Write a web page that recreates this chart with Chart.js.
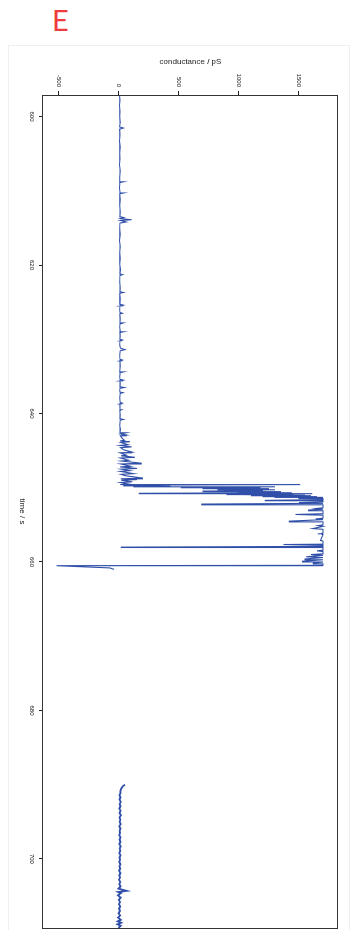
<!DOCTYPE html>
<html><head><meta charset="utf-8">
<script src="https://cdn.jsdelivr.net/npm/chart.js@4"></script>
<style>
html,body{margin:0;padding:0;background:#fff;overflow:hidden;width:350px;height:930px;}
#E{position:absolute;left:52px;top:5px;font:400 29px Lato,"Liberation Sans",Arial,sans-serif;color:#ee3b3b;line-height:1;}
#frame{position:absolute;left:8px;top:45px;width:340px;height:890px;border:1px solid #efefef;}
#wrap{position:absolute;left:0;top:0;width:930px;height:350px;transform-origin:0 0;transform:translateX(350px) rotate(90deg);}
canvas{display:block;}
</style></head>
<body>
<div id="frame"></div>
<div id="E">E</div>
<div id="wrap"><canvas id="c" width="930" height="350" style="width:930px;height:350px"></canvas></div>
<script>
const timeTicks = [600, 620, 640, 660, 680, 700];
const condTicks = [-500, 0, 500, 1000, 1500];
const timeRange = [597.1, 709.3];
const condRange = [-633, 1825];

// segment before the gap: time (s) and conductance (pS)
const timeA = [
597.1,597.8,598.5,599.3,600.0,600.8,601.4,601.55,601.7,602.5,
603.3,604.1,604.9,605.7,606.5,607.3,608.1,608.7,608.8,608.9,
609.6,610.2,610.3,610.4,611.2,612.0,612.8,613.5,613.6,613.75,
613.9,614.0,614.2,614.35,615.1,615.9,616.7,617.5,618.3,619.1,
619.9,620.6,621.2,621.3,621.4,622.3,623.1,623.6,623.7,623.8,
624.5,625.3,625.4,625.5,626.0,626.4,626.5,626.6,627.2,627.7,
627.8,627.95,628.4,628.9,629.0,629.1,629.6,630.0,630.1,630.2,
630.8,631.2,631.4,631.55,632.1,632.7,632.8,632.9,633.6,634.3,
634.4,634.5,635.0,635.4,635.5,635.6,636.0,636.4,636.5,636.6,
637.1,637.2,637.3,637.9,638.5,638.6,638.7,639.4,639.5,639.6,
640.2,640.7,640.8,640.9,641.6,642.2,642.5,642.6,642.75,642.9,
643.0,643.3,643.6,643.7,643.8,643.9,644.2,644.3,644.5,644.6,
644.9,645.2,645.3,645.6,645.7,645.9,646.0,646.3,646.4,646.7,
646.8,647.1,647.2,647.4,647.5,647.7,647.8,648.1,648.2,648.4,
648.7,648.8,648.9,649.0,649.2,649.3,649.5,649.55,649.6,649.65,
649.75,649.8,649.85,649.9,649.95,650.0,650.05,650.1,650.15,650.2,
650.25,650.3,650.35,650.4,650.45,650.5,650.55,650.6,650.65,650.7,
650.75,650.8,650.85,650.9,650.95,651.0,651.05,651.1,651.15,651.2,
651.25,651.3,651.4,651.45,651.6,651.7,651.75,651.9,652.0,652.1,
652.2,652.3,652.7,652.8,652.9,653.0,653.1,653.5,653.6,653.7,
654.1,654.2,654.3,654.5,654.6,655.0,655.1,655.2,655.5,655.6,
656.1,656.2,656.3,657.1,657.2,657.6,657.65,657.75,657.9,658.0,
658.05,658.4,658.5,658.6,658.9,659.0,659.1,659.3,659.4,659.6,
659.7,659.9,660.0,660.15,660.25,660.45,660.5,660.8,661.0
];
const condA = [
5,8,4,9,6,10,5,36,6,9,
4,10,6,9,5,11,7,6,36,8,
5,9,36,7,10,6,11,8,40,10,
105,12,60,9,6,10,5,11,7,10,
6,12,8,30,9,6,11,8,36,7,
10,8,36,9,6,9,28,7,10,8,
36,9,6,10,36,8,11,7,28,9,
6,12,50,10,7,9,28,8,11,7,
36,10,6,9,36,8,11,8,44,9,
7,33,10,6,10,28,8,9,21,7,
11,8,36,10,7,12,9,58,14,64,
12,25,45,10,92,15,75,8,105,14,
40,110,10,60,18,133,12,80,20,189,
15,95,10,150,20,90,12,120,18,60,
200,15,150,20,110,12,80,10,1510,40,
170,430,120,1300,520,1180,700,1250,760,1150,
820,1300,880,1200,700,1350,950,1250,1000,1440,
170,1610,900,1450,1000,1550,1100,1600,1200,1650,
1300,1700,1500,1700,1700,1220,1700,1700,1500,1700,
690,1700,1700,1640,1700,1580,1700,1700,1470,1700,
1700,1640,1700,1420,1700,1700,1660,1700,1615,1700,
1700,1680,1700,1680,1700,1700,1370,1700,1700,20,
1700,1700,1650,1700,1700,1600,1700,1560,1700,1550,
1700,1530,1700,1620,1700,1700,-520,-75,-40
];

// segment after the gap
const timeB = [
690.0,690.2,690.5,690.8,691.1,691.4,691.7,692.0,692.3,692.6,
692.9,693.2,693.5,693.8,694.1,694.4,694.7,695.0,695.3,695.6,
695.9,696.2,696.5,696.8,697.1,697.4,697.7,698.0,698.3,698.6,
698.9,699.2,699.5,699.8,700.1,700.4,700.7,701.0,701.3,701.6,
701.9,702.2,702.5,702.8,703.1,703.4,703.7,704.0,704.3,704.45,
704.6,704.9,705.2,705.5,705.8,706.1,706.4,706.7,707.0,707.3,
707.6,707.9,708.2,708.4,708.6,708.8,709.0,709.3
];
const condB = [
50,32,20,12,14,4,12,5,15,6,
12,3,13,5,16,4,11,6,14,2,
12,5,10,2,13,5,12,3,14,6,
11,2,13,5,10,2,12,4,10,1,
12,3,9,0,11,2,13,-4,64,-6,
16,-8,14,-2,9,0,10,1,8,-3,
10,-8,16,-10,18,-12,14,-4
];

const FONT = '"Liberation Sans", Arial, Helvetica, sans-serif';
const LINE = '#2f4fa8';
const INK = '#222';

function pts(t, c) { return t.map((v, i) => ({ x: v, y: c[i] })); }

const boxPlugin = {
  id: 'box',
  afterDraw(chart) {
    const { ctx, chartArea: a } = chart;
    ctx.save();
    ctx.strokeStyle = '#333';
    ctx.lineWidth = 1;
    ctx.strokeRect(Math.round(a.left) + 0.5, Math.round(a.top) + 0.5,
                   Math.round(a.right - a.left), Math.round(a.bottom - a.top));
    ctx.restore();
  }
};

new Chart(document.getElementById('c'), {
  type: 'scatter',
  data: {
    datasets: [
      { data: pts(timeA, condA), showLine: true, borderColor: LINE, borderWidth: 1.1, pointRadius: 0, fill: false },
      { data: pts(timeB, condB), showLine: true, borderColor: LINE, borderWidth: 1.8, pointRadius: 0, fill: false }
    ]
  },
  options: {
    responsive: false,
    animation: false,
    devicePixelRatio: 1,
    layout: { padding: { left: 0, right: 2, top: 12, bottom: 0 } },
    plugins: { legend: { display: false }, tooltip: { enabled: false } },
    scales: {
      x: {
        type: 'linear', position: 'bottom',
        min: timeRange[0], max: timeRange[1],
        afterBuildTicks: s => { s.ticks = timeTicks.map(v => ({ value: v })); },
        afterFit: s => { s.height = 43; },
        ticks: { font: { family: FONT, size: 6 }, color: INK, padding: 4, minRotation: 0, maxRotation: 0, autoSkip: false,
                 callback: v => String(v) },
        grid: { display: true, drawOnChartArea: false, drawTicks: true, tickLength: 4, color: INK },
        border: { display: true, color: '#333' },
        title: { display: true, text: 'time / s', font: { family: FONT, size: 8 }, color: INK, padding: { top: 0, bottom: 17 } }
      },
      y: {
        type: 'linear', position: 'left',
        min: condRange[0], max: condRange[1],
        afterBuildTicks: s => { s.ticks = condTicks.map(v => ({ value: v })); },
        afterFit: s => { s.width = 95; },
        ticks: { font: { family: FONT, size: 6 }, color: INK, padding: 4, autoSkip: false,
                 callback: v => String(v) },
        grid: { display: true, drawOnChartArea: false, drawTicks: true, tickLength: 4, color: INK },
        border: { display: true, color: '#333' },
        title: { display: true, text: 'conductance / pS', font: { family: FONT, size: 8 }, color: INK, padding: { top: 57, bottom: 0 } }
      }
    }
  },
  plugins: [boxPlugin]
});
</script>
</body></html>
